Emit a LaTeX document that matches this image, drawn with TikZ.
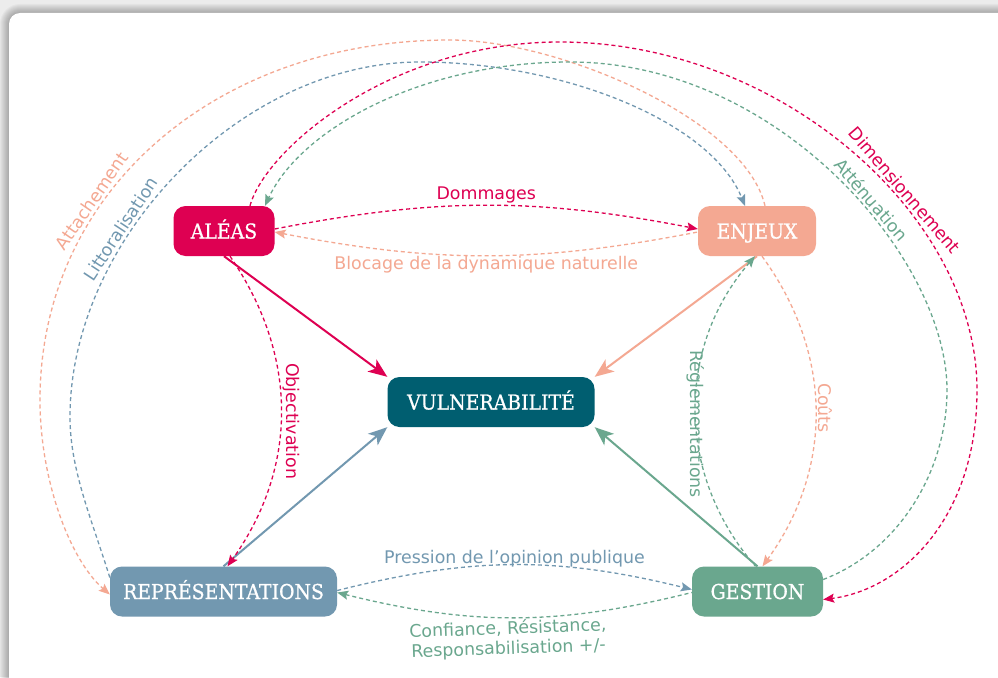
\documentclass[tikz,border=0pt]{standalone}
\usepackage{fontspec}
\setmainfont{DejaVu Sans}
\newfontfamily\slabfont[FakeStretch=0.92,FakeBold=0.8]{DejaVu Serif}
\usetikzlibrary{arrows.meta}
\definecolor{aleascrim}{RGB}{222,0,82}
\definecolor{enjeuxsalmon}{RGB}{244,168,146}
\definecolor{vulnteal}{RGB}{0,94,112}
\definecolor{reprblue}{RGB}{114,152,176}
\definecolor{gestgreen}{RGB}{106,167,142}
\definecolor{cardgray}{RGB}{236,236,236}
\tikzset{
  pole/.style={rounded corners=12pt,minimum height=50pt,inner sep=0pt,text=white,
    text height=15pt,text depth=0pt,font=\slabfont\fontsize{20.5}{24}\selectfont},
  impact/.style={line width=2pt,>={Stealth[length=19pt,width=15pt,inset=5pt]},->},
  link/.style={line width=1.3pt,dash pattern=on 4pt off 3pt,>={Stealth[length=11pt,width=9pt,inset=2pt]}},
  lab/.style={font=\fontsize{17.4}{20}\selectfont,inner sep=2pt}
}

\begin{document}
\begin{tikzpicture}[x=1pt,y=1pt]
    \useasboundingbox (0,0) rectangle (998,-677);
    \clip (0,0) rectangle (998,-677);
    \fill[cardgray] (0,0) rectangle (998,-677);
    \foreach \s in {1,...,9} {
      \fill[black,opacity=0.03,rounded corners=11pt+\s pt] (9-\s,-13+\s) rectangle (1010+\s,-690-\s);
    }
    \fill[white,rounded corners=11pt] (9,-13) rectangle (1010,-690);

    \node[pole,fill=aleascrim,minimum width=101pt] (aleas) at (224,-231) {ALÉAS};
    \node[pole,fill=enjeuxsalmon,minimum width=118pt] (enjeux) at (757,-231) {ENJEUX};
    \node[pole,fill=vulnteal,minimum width=207pt] (vuln) at (491,-402) {VULNERABILITÉ};
    \node[pole,fill=reprblue,minimum width=227pt] (repr) at (223.5,-591.5) {REPRÉSENTATIONS};
    \node[pole,fill=gestgreen,minimum width=131pt] (gestion) at (757.5,-591.5) {GESTION};

    \draw[impact,aleascrim] (aleas.south) -- (vuln.north west);
    \draw[impact,enjeuxsalmon] (enjeux.south) -- (vuln.north east);
    \draw[impact,reprblue] (repr.north) -- (vuln.south west);
    \draw[impact,gestgreen] (gestion.north) -- (vuln.south east);

    \draw[link,aleascrim,->] ([yshift=2pt]aleas.east) to[bend left=11]
      node[lab,above,text=aleascrim] (dommages) {Dommages} ([yshift=2pt]enjeux.west);
    \draw[link,enjeuxsalmon,<-] ([yshift=-1pt]aleas.east) to[bend right=11]
      node[lab,below,inner sep=0pt,text=enjeuxsalmon] (blocage) {Blocage de la dynamique naturelle} ([yshift=-1pt]enjeux.west);
    \draw[link,aleascrim,->] ([xshift=6pt]aleas.south) to[bend left=35]
      node[lab,rotate=-90,anchor=south,pos=0.53,text=aleascrim] (objectiv) {Objectivation} ([xshift=4pt]repr.north);
    \draw[link,gestgreen,<-] ([xshift=-2pt]enjeux.south) to[bend right=41]
      node[lab,rotate=-90,pos=0.53,xshift=3pt,text=gestgreen] (reglem) {Réglementations} ([xshift=-2pt]gestion.north);
    \draw[link,enjeuxsalmon,->] ([xshift=5pt]enjeux.south) to[bend left=36]
      node[lab,rotate=-90,anchor=south,pos=0.49,text=enjeuxsalmon] (couts) {Coûts} ([xshift=5pt]gestion.north);
    \draw[link,reprblue,->] ([yshift=1pt]repr.east) to[bend left=14]
      node[lab,above,inner sep=0pt,yshift=-3pt,text=reprblue] (pression) {Pression de l’opinion publique} ([yshift=2pt]gestion.west);
    \draw[link,gestgreen,<-] ([yshift=-1pt]repr.east) to[bend right=14]
      node[lab,below,align=center,inner sep=1pt,xshift=-7pt,yshift=-1pt,rotate=2,text=gestgreen] (confiance) {Confiance, Résistance,\\Responsabilisation +/-} ([yshift=-1pt]gestion.west);

    % grandes boucles autour du schema
    \draw[link,enjeuxsalmon,->] ([xshift=8pt]enjeux.north) .. controls (745,-120) and (560,-40) .. (450,-40)
      .. controls (215,-40) and (40,-192) .. (40,-400) node[lab,sloped,above,pos=0.65,text=enjeuxsalmon] (attach) {Attachement}
      .. controls (40,-480) and (70,-560) .. ([yshift=-3pt]repr.west);
    \draw[link,reprblue,->] ([yshift=14pt]repr.west) .. controls (92,-520) and (70,-470) .. (70,-417)
      .. controls (70,-240) and (240,-62) .. (420,-62) node[lab,sloped,above,pos=0.36,text=reprblue] (littoral) {Littoralisation}
      .. controls (560,-62) and (710,-120) .. ([xshift=-12pt]enjeux.north);
    \draw[link,aleascrim,->] ([xshift=26pt]aleas.north) .. controls (265,-150) and (390,-42) .. (560,-42)
      .. controls (780,-42) and (977,-215) .. (977,-390) node[lab,sloped,above,pos=0.61,text=aleascrim] (dimens) {Dimensionnement}
      .. controls (977,-520) and (900,-590) .. ([yshift=-8pt]gestion.east);
    \draw[link,gestgreen,->] ([yshift=12pt]gestion.east) .. controls (900,-550) and (947,-470) .. (947,-390)
      .. controls (947,-260) and (780,-62) .. (570,-62) node[lab,sloped,above,pos=0.43,text=gestgreen] (attenu) {Atténuation}
      .. controls (420,-62) and (300,-130) .. ([xshift=41pt]aleas.north);
  \end{tikzpicture}
\end{document}
